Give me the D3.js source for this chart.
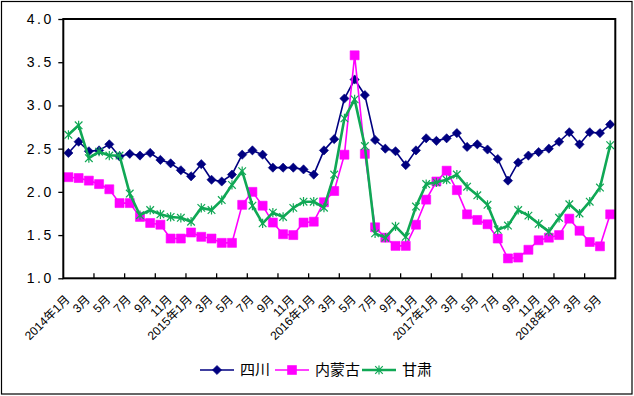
<!DOCTYPE html>
<html>
<head>
<meta charset="utf-8">
<style type="text/css">
	body {
		margin: 0;
		background: #ffffff;
	}
	.vis-price text {
		font-family: "Liberation Sans", "Noto Sans CJK SC", sans-serif;
		fill: #000000;
	}
	.frame-price {
		fill: none;
		stroke: #000000;
		stroke-width: 2;
	}
	.axis-price path,
	.axis-price line {
		stroke: #000000;
		stroke-width: 1.3;
	}
</style>
</head>
<body>
<div class="vis-price"></div>

<script src="https://d3js.org/d3.v7.min.js"></script>
<script>

	// Data //
	// ---- //

	let months = [
		"2014年1月", "2月", "3月", "4月", "5月", "6月", "7月", "8月", "9月", "10月", "11月", "12月",
		"2015年1月", "2月", "3月", "4月", "5月", "6月", "7月", "8月", "9月", "10月", "11月", "12月",
		"2016年1月", "2月", "3月", "4月", "5月", "6月", "7月", "8月", "9月", "10月", "11月", "12月",
		"2017年1月", "2月", "3月", "4月", "5月", "6月", "7月", "8月", "9月", "10月", "11月", "12月",
		"2018年1月", "2月", "3月", "4月", "5月", "6月"
	];

	let sichuan = [
		2.45, 2.58, 2.47, 2.48, 2.55, 2.41, 2.44, 2.42, 2.45, 2.37, 2.33, 2.25,
		2.18, 2.32, 2.14, 2.12, 2.20, 2.43, 2.48, 2.43, 2.28, 2.28, 2.28, 2.26,
		2.20, 2.48, 2.61, 3.08, 3.30, 3.12, 2.60, 2.50, 2.47, 2.31, 2.48, 2.62,
		2.59, 2.62, 2.68, 2.52, 2.55, 2.49, 2.38, 2.13, 2.34, 2.42, 2.46, 2.50,
		2.58, 2.69, 2.55, 2.69, 2.68, 2.78
	];

	let neimenggu = [
		2.17, 2.16, 2.13, 2.09, 2.03, 1.87, 1.87, 1.71, 1.64, 1.62, 1.46, 1.46,
		1.53, 1.48, 1.46, 1.41, 1.41, 1.85, 2.00, 1.84, 1.645, 1.51, 1.50, 1.645,
		1.655, 1.88, 2.01, 2.43, 3.58, 2.44, 1.59, 1.47, 1.375, 1.375, 1.62, 1.91,
		2.12, 2.245, 2.02, 1.74, 1.675, 1.625, 1.46, 1.23, 1.24, 1.33, 1.44, 1.47,
		1.50, 1.69, 1.55, 1.42, 1.37, 1.74
	];

	let gansu = [
		2.66, 2.77, 2.39, 2.465, 2.42, 2.42, 1.98, 1.73, 1.79, 1.74, 1.71, 1.70,
		1.655, 1.815, 1.79, 1.905, 2.08, 2.24, 1.84, 1.636, 1.76, 1.71, 1.815, 1.886,
		1.886, 1.817, 2.20, 2.85, 3.07, 2.53, 1.52, 1.47, 1.60, 1.48, 1.83, 2.09,
		2.11, 2.14, 2.20, 2.06, 1.96, 1.85, 1.56, 1.61, 1.79, 1.725, 1.63, 1.54,
		1.70, 1.856, 1.75, 1.886, 2.05, 2.54
	];

	let yTicks = [1.0, 1.5, 2.0, 2.5, 3.0, 3.5, 4.0];

	let series = [
		{name: "四川", values: sichuan, color: "#000080", width: 1.6, marker: "diamond"},
		{name: "内蒙古", values: neimenggu, color: "#FF00FF", width: 1.6, marker: "square"},
		{name: "甘肃", values: gansu, color: "#10A855", width: 2.6, marker: "star"}
	];


	// Setup //
	// ----- //

	let width = 634, height = 396;
	let plot = {left: 63.3, right: 615.3, top: 19, bottom: 278.3};

	let svg = d3.select(".vis-price")
		.append("svg")
			.attr("width", width)
			.attr("height", height);

	// outer border
	svg.append("rect")
		.attr("x", 1.5)
		.attr("y", 1.5)
		.attr("width", 630.5)
		.attr("height", 392.5)
		.style("fill", "none")
		.style("stroke", "#000")
		.style("stroke-width", 1.2);

	let x = d3.scaleBand()
		.domain(d3.range(months.length))
		.range([plot.left, plot.right])
		.padding(0);
	let y = d3.scaleLinear()
		.domain([1, 4])
		.range([plot.bottom, plot.top]);
	let cx = i => x(i) + x.bandwidth() / 2;

	// Y-AXIS
	let yAxis = d3.axisLeft(y)
		.tickValues(yTicks)
		.tickSize(5)
		.tickPadding(7)
		.tickFormat(d3.format(".1f"));
	let gy = svg.append("g")
		.attr("class", "axis-price")
		.attr("transform", "translate(" + plot.left + ",0)")
		.call(yAxis);
	gy.select(".domain").remove();
	gy.selectAll("text")
		.style("font-size", "14px")
		.style("letter-spacing", "2.6px")
		.attr("dx", "2.6px");

	// X-AXIS (ticks every 3 months, pointing inward)
	let xTickIdx = d3.range(3, months.length, 3);
	svg.append("g")
		.attr("class", "axis-price")
		.selectAll("line")
		.data(xTickIdx)
		.enter().append("line")
		.attr("x1", d => x(d))
		.attr("x2", d => x(d))
		.attr("y1", plot.bottom)
		.attr("y2", plot.bottom - 5);

	// month labels every 2 months
	svg.append("g")
		.selectAll("text")
		.data(d3.range(0, months.length, 2))
		.enter().append("text")
		.attr("transform", d => "translate(" + (cx(d) + 2) + "," + (plot.bottom + 22) + ") rotate(-45)")
		.style("text-anchor", "end")
		.style("font-size", "12px")
		.text(d => months[d]);

	// LINES AND MARKERS
	let valueline = d3.line()
		.x((d, i) => cx(i))
		.y(d => y(d));

	function markerPath(type) {
		if (type == "diamond") {
			return "M0,-4.6L4.6,0L0,4.6L-4.6,0Z";
		} else if (type == "square") {
			return "M-4.5,-4.5H4.5V4.5H-4.5Z";
		}
		return "M-3.8,-3.8L3.8,3.8M-3.8,3.8L3.8,-3.8M0,-4.6V4.6";
	}

	function drawMarker(sel, s) {
		if (s.marker == "star") {
			sel.attr("d", markerPath(s.marker))
				.style("fill", "none")
				.style("stroke", s.color)
				.style("stroke-width", 1.2);
		} else {
			sel.attr("d", markerPath(s.marker))
				.style("fill", s.color)
				.style("stroke", s.color)
				.style("stroke-width", 0.6);
		}
	}

	series.forEach(s => {
		svg.append("path")
			.datum(s.values)
			.attr("d", valueline)
			.style("fill", "none")
			.style("stroke", s.color)
			.style("stroke-width", s.width)
			.style("stroke-linejoin", "round");
		svg.append("g")
			.selectAll("path")
			.data(s.values)
			.enter().append("path")
			.attr("transform", (d, i) => "translate(" + cx(i) + "," + y(d) + ")")
			.call(drawMarker, s);
	});

	// plot frame on top
	svg.append("rect")
		.attr("class", "frame-price")
		.attr("x", plot.left)
		.attr("y", plot.top)
		.attr("width", plot.right - plot.left)
		.attr("height", plot.bottom - plot.top);

	// LEGEND
	let legendX = [200, 275, 362];
	let legend = svg.append("g")
		.selectAll("g")
		.data(series)
		.enter().append("g")
		.attr("transform", (d, i) => "translate(" + legendX[i] + ",370)");
	legend.append("line")
		.attr("x1", 0)
		.attr("x2", 34)
		.style("stroke", d => d.color)
		.style("stroke-width", d => d.width);
	legend.append("path")
		.attr("transform", "translate(17,0)")
		.each(function(d) { drawMarker(d3.select(this), d); });
	legend.append("text")
		.attr("x", 40)
		.attr("y", 5)
		.style("font-size", "15px")
		.text(d => d.name);

</script>
</body>
</html>
